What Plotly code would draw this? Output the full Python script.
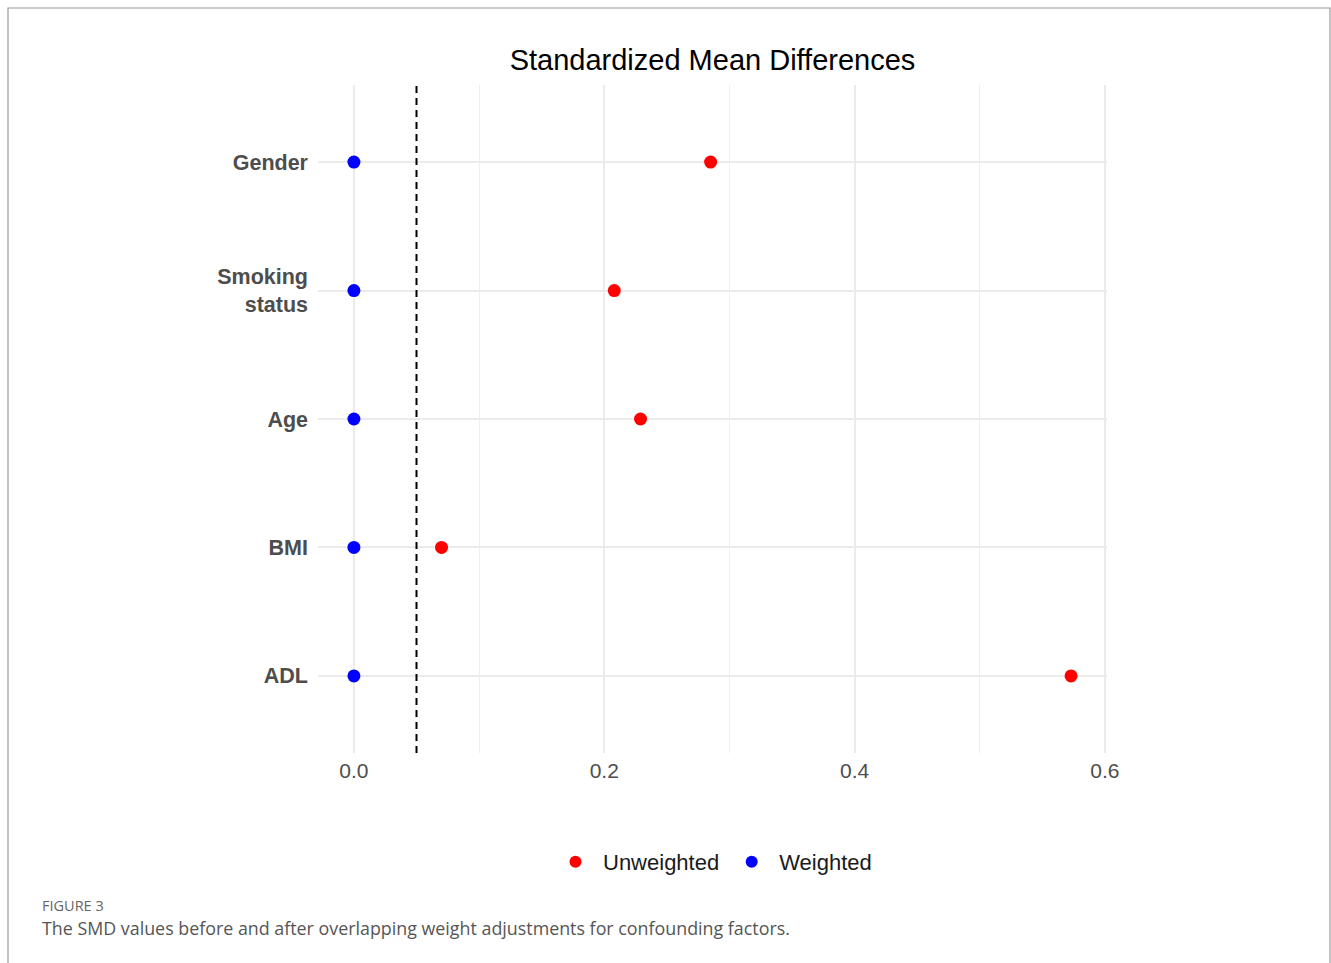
import plotly.graph_objects as go

covariates = ["Gender", "Smoking status", "Age", "BMI", "ADL"]
cov_labels = ["Gender", "Smoking<br>status", "Age", "BMI", "ADL"]
smd_unweighted = [0.285, 0.208, 0.229, 0.070, 0.573]
smd_weighted = [0.0, 0.0, 0.0, 0.0, 0.0]
threshold = 0.05
x_ticks = [0.0, 0.2, 0.4, 0.6]
x_tick_labels = ["0.0", "0.2", "0.4", "0.6"]

W, H = 1331, 963
L, R, T, B = 318, 1107, 85, 753
pw, ph = R - L, B - T

def px(xp):
    return (xp - L) / pw

def py(yp):
    return (B - yp) / ph

fig = go.Figure()
fig.add_trace(go.Scatter(
    x=smd_unweighted, y=covariates, mode="markers", name="Unweighted",
    marker=dict(color="#FF0000", size=13),
))
fig.add_trace(go.Scatter(
    x=smd_weighted, y=covariates, mode="markers", name="Weighted",
    marker=dict(color="#0000FF", size=13),
))

fig.add_vline(x=threshold, line=dict(color="black", width=2, dash="7px,5px"))

fig.add_shape(type="rect", xref="paper", yref="paper",
              x0=px(8), x1=px(1330), y0=py(975), y1=py(8),
              line=dict(color="#999999", width=1.2), fillcolor="rgba(0,0,0,0)", layer="below")

fig.add_annotation(text="FIGURE 3", xref="paper", yref="paper", x=px(40), y=py(905),
                   xanchor="left", yanchor="middle", showarrow=False,
                   font=dict(family="Open Sans", size=14.5, color="#666666"))
fig.add_annotation(text="The SMD values before and after overlapping weight adjustments for confounding factors.",
                   xref="paper", yref="paper", x=px(40), y=py(928),
                   xanchor="left", yanchor="middle", showarrow=False,
                   font=dict(family="Open Sans", size=17.85, color="#555555"))

xmin = -0.0287
xmax = 0.6017
fig.update_layout(
    width=W, height=H,
    margin=dict(l=L, r=W - R, t=T, b=H - B),
    paper_bgcolor="white", plot_bgcolor="white",
    title=dict(text="Standardized Mean Differences", x=0.5, xref="paper",
               y=1 - 60 / H, yref="container", yanchor="middle", xanchor="center",
               font=dict(family="Liberation Sans", size=29, color="black")),
    xaxis=dict(range=[xmin, xmax], tickvals=x_ticks, ticktext=x_tick_labels,
               showgrid=True, gridcolor="#EBEBEB", gridwidth=1.5,
               minor=dict(dtick=0.1, tick0=0, showgrid=True, gridcolor="#EFEFEF", gridwidth=1),
               zeroline=False, showline=False, ticks="",
               ticklabelstandoff=3,
               tickfont=dict(family="Liberation Sans", size=21, color="#4D4D4D")),
    yaxis=dict(type="category", categoryorder="array", categoryarray=covariates[::-1],
               tickvals=covariates, ticktext=cov_labels,
               range=[-0.6, 4.6], showgrid=True, gridcolor="#EBEBEB", gridwidth=1.5,
               zeroline=False, showline=False, ticks="",
               ticklabelstandoff=9,
               tickfont=dict(family="Liberation Sans", size=21.5, color="#4D4D4D", weight="bold")),
    showlegend=True,
    legend=dict(orientation="h", x=0.5, xanchor="center", y=py(862), yanchor="middle",
                font=dict(family="Liberation Sans", size=22, color="#1A1A1A"),
                itemsizing="constant", itemwidth=45, tracegroupgap=0),
)

fig.write_html("out.html", config={"displayModeBar": False},
               post_script="document.body.style.margin='0';")
